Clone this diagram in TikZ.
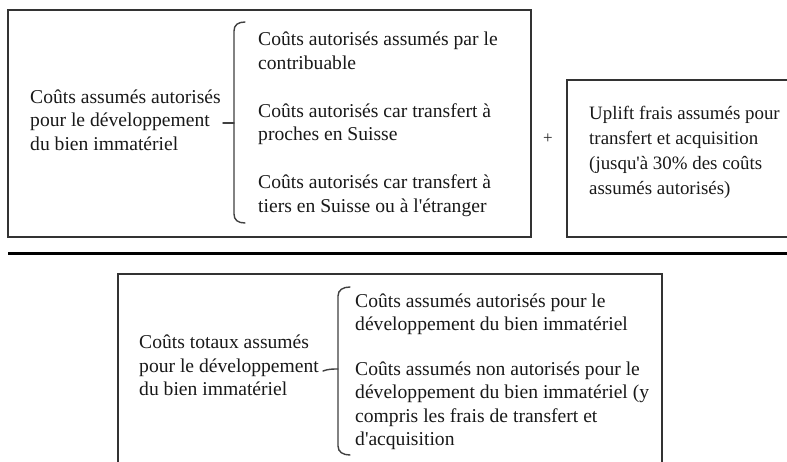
\documentclass[tikz,border=0pt]{standalone}
\usepackage{fontspec}
\setmainfont{Liberation Serif}
\newcommand{\apos}{\textquotesingle}
\begin{document}
\begin{tikzpicture}[x=1pt,y=-1pt,
  txt/.style={anchor=west,inner sep=0pt,align=left,text=black!90,
    font=\fontsize{19.6}{23.5}\selectfont,
    execute at begin node=\strut, execute at end node=\strut},
  boxline/.style={draw=black!80,line width=1.4pt},
  brk/.style={draw=black!75,line width=1.4pt,line cap=round}]
\clip (0,0) rectangle (787,461);
\fill[white] (0,0) rectangle (787,461);
% top left box
\draw[boxline] (8,10) rectangle (531,237);
\node[txt] (lefttext) at (30,123.5) {Coûts assumés autorisés\\pour le développement\\du bien immatériel};
\draw[brk] (245,22) .. controls (238,22) and (234,25) .. (234,31) -- (234,214) .. controls (234,220) and (238,223) .. (245,223);
\draw[brk] (223,123) -- (234,123);
\node[txt] (itemA) at (258,54) {Coûts autorisés assumés par le\\contribuable};
\node[txt] (itemB) at (258,125.5) {Coûts autorisés car transfert à\\proches en Suisse};
\node[txt] (itemC) at (258,197) {Coûts autorisés car transfert à\\tiers en Suisse ou à l\apos étranger};
% plus
\node[inner sep=0pt,font=\fontsize{17}{20}\selectfont,text=black!85] (plus) at (548,139) {+};
% top right box
\draw[boxline] (567,80) rectangle (795,237);
\node[txt,font=\fontsize{18.9}{25}\selectfont] (uplift) at (589,154) {Uplift frais assumés pour\\transfert et acquisition\\(jusqu\apos à 30\% des coûts\\assumés autorisés)};
% separator
\draw[black,line width=3pt] (8,253) -- (790,253);
% bottom box
\draw[boxline] (118,474) -- (118,274) -- (662,274) -- (662,474);
\node[txt] (totaltext) at (139,369) {Coûts totaux assumés\\pour le développement\\du bien immatériel};
\draw[brk] (350,287) .. controls (343,287) and (338,290) .. (338,296) -- (338,446) .. controls (338,452) and (343,455) .. (350,455);
\draw[brk] (323,371) .. controls (328,369) and (333,369) .. (338,369);
\node[txt] (itemD) at (355,315.5) {Coûts assumés autorisés pour le\\développement du bien immatériel};
\node[txt] (itemE) at (355,407) {Coûts assumés non autorisés pour le\\développement du bien immatériel (y\\compris les frais de transfert et\\d\apos acquisition};
\end{tikzpicture}
\end{document}
